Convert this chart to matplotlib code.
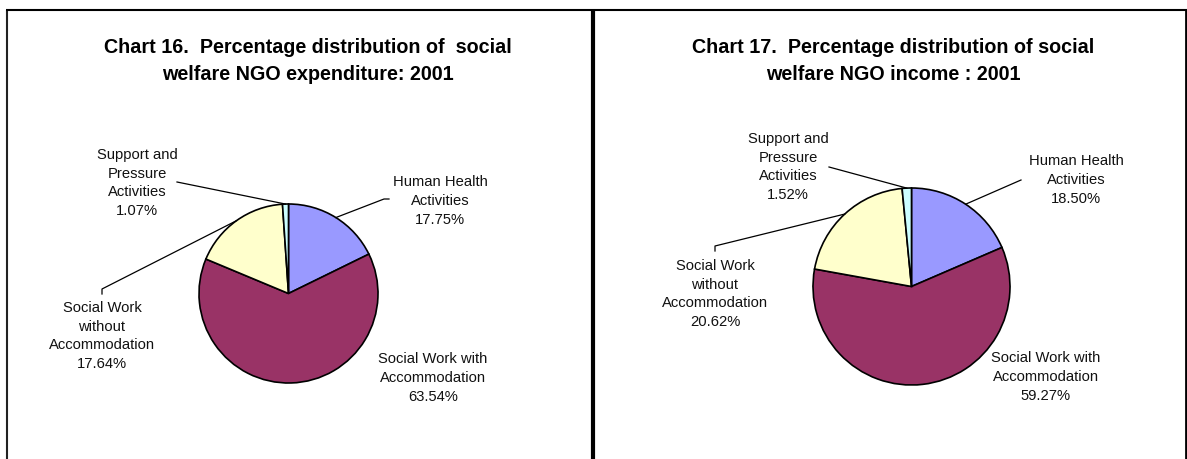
import numpy as np
import matplotlib
matplotlib.use("Agg")
import matplotlib.pyplot as plt

plt.rcParams['font.family'] = ['Liberation Sans', 'DejaVu Sans']

# Data
categories = ["Human Health\nActivities",
              "Social Work with\nAccommodation",
              "Social Work\nwithout\nAccommodation",
              "Support and\nPressure\nActivities"]
expenditure_2001 = [17.75, 63.54, 17.64, 1.07]
income_2001 = [18.50, 59.27, 20.62, 1.52]
titles = ["Chart 16.  Percentage distribution of  social\nwelfare NGO expenditure: 2001",
          "Chart 17.  Percentage distribution of social\nwelfare NGO income : 2001"]
colors = ["#9999FF", "#993366", "#FFFFCC", "#CCFFFF"]

W, H = 1187, 459
fig = plt.figure(figsize=(W / 100, H / 100), dpi=100)

# overlay for borders (pixel coords)
bg = fig.add_axes([0, 0, 1, 1])
bg.set_xlim(0, W)
bg.set_ylim(H, 0)
bg.axis("off")
bg.plot([7, 7], [H + 5, 10], color="#222222", lw=1.5, solid_capstyle="butt")
bg.plot([6, 1187], [10, 10], color="black", lw=1.5, solid_capstyle="butt")
bg.plot([593, 593], [10, H + 5], color="black", lw=3, solid_capstyle="butt")
bg.plot([1185.5, 1185.5], [10, H + 5], color="black", lw=2, solid_capstyle="butt")

# per chart layout (pixels): pie bbox, title center, label centers, leader line starts
charts = [
    dict(values=expenditure_2001, title=titles[0], box=(199, 378, 204, 383),
         title_xy=(308, 61),
         label_xy=[(440, 201), (433, 378), (102, 336), (137, 183)],
         leaders=[[(389, 199), (384, 199)], None, [(102, 294), (102, 289)], [(177, 182)]]),
    dict(values=income_2001, title=titles[1], box=(813, 1010, 188, 385),
         title_xy=(893, 61),
         label_xy=[(1076, 180), (1046, 377), (715, 294), (788, 167)],
         leaders=[[(1021, 180)], None, [(715, 251), (715, 246)], [(829, 167)]]),
]

for ch in charts:
    x0, x1, y0, y1 = ch["box"]
    cx, cy = (x0 + x1) / 2, (y0 + y1) / 2
    rx, ry = (x1 - x0) / 2, (y1 - y0) / 2
    ax = fig.add_axes([x0 / W, 1 - y1 / H, (x1 - x0) / W, (y1 - y0) / H])
    wedges, _ = ax.pie(ch["values"], colors=colors, startangle=90, counterclock=False,
                       wedgeprops=dict(edgecolor="black", linewidth=1.2))
    ax.set_aspect("auto")
    ax.set_xlim(-1, 1)
    ax.set_ylim(-1, 1)

    def to_data(p):
        return ((p[0] - cx) / rx, (cy - p[1]) / ry)

    bg.text(ch["title_xy"][0], ch["title_xy"][1], ch["title"], ha="center", va="center",
            fontsize=14.2, fontweight="bold", linespacing=1.55)

    for i, (name, val) in enumerate(zip(categories, ch["values"])):
        lx, ly = to_data(ch["label_xy"][i])
        ax.text(lx, ly, f"{name}\n{val:.2f}%", ha="center", va="center",
                fontsize=10.6, linespacing=1.45, color="#111111", clip_on=False)
        if ch["leaders"][i] is not None:
            w = wedges[i]
            mid = np.deg2rad((w.theta1 + w.theta2) / 2)
            pts = [to_data(p) for p in ch["leaders"][i]] + [(np.cos(mid), np.sin(mid))]
            xs, ys = zip(*pts)
            ax.plot(xs, ys, color="black", lw=0.9, clip_on=False)

fig.savefig("out.png", dpi=100)
